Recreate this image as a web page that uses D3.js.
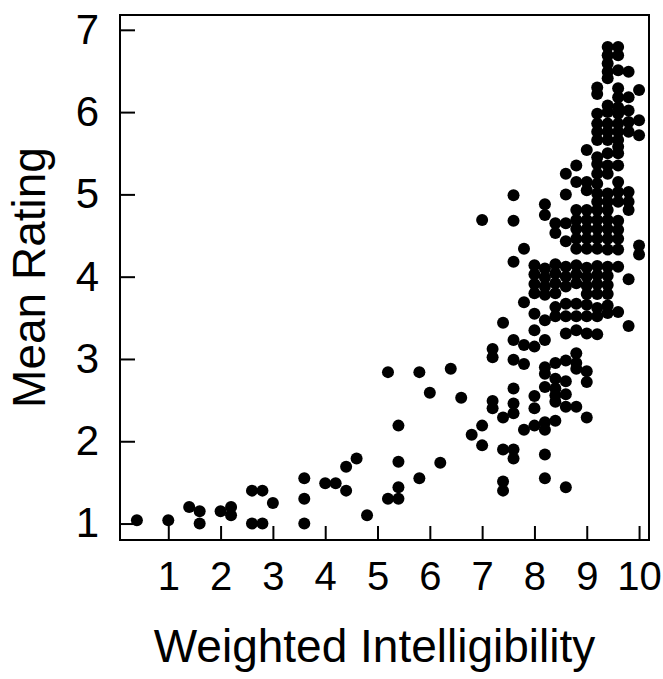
<!DOCTYPE html>
<html>
<head>
<meta charset="utf-8">
<script src="https://cdn.jsdelivr.net/npm/d3@7"></script>
<style>
  body { margin: 0; background: #fff; }
  svg { display: block; }
  text { font-family: "Liberation Sans", Arial, Helvetica, sans-serif; fill: #000; }
</style>
</head>
<body>
<div id="chart"></div>
<script>
// sparse points (low intelligibility)
const sparseX = [0.4, 1.0, 1.4, 1.6, 1.6, 2.0, 2.2, 2.2, 2.6, 2.6, 2.8, 2.8, 3.0,
  3.6, 3.6, 3.6, 4.0, 4.2, 4.4, 4.4, 4.6, 4.8, 5.2, 5.2, 5.4, 5.4, 5.4, 5.4,
  5.8, 5.8, 6.0, 6.2, 6.4, 6.6, 6.8, 7.0, 7.0, 7.0];
const sparseY = [1.04, 1.04, 1.20, 1.15, 1.0, 1.15, 1.20, 1.10, 1.40, 1.0, 1.40, 1.0, 1.25,
  1.55, 1.30, 1.0, 1.49, 1.49, 1.69, 1.40, 1.79, 1.10, 2.84, 1.30, 2.19, 1.75, 1.44, 1.30,
  2.84, 1.55, 2.59, 1.74, 2.88, 2.53, 2.08, 4.69, 2.19, 1.95];

// dense part, one list of ratings per intelligibility column
const columnX = [7.2, 7.4, 7.6, 7.8, 8.0, 8.2, 8.4, 8.6, 8.8, 9.0, 9.2, 9.4, 9.6, 9.8, 10.0];
const columnRatings = [
  [3.12, 3.02, 2.49, 2.40],
  [3.44, 2.29, 1.90, 1.51, 1.40],
  [4.99, 4.68, 4.18, 3.23, 2.99, 2.64, 2.46, 2.34, 1.90, 1.79],
  [4.34, 3.69, 3.17, 2.94, 2.14],
  [4.14, 4.03, 3.91, 3.80, 3.55, 3.35, 3.15, 2.55, 2.40, 2.19],
  [4.88, 4.75, 4.10, 3.99, 3.88, 3.78, 3.47, 3.23, 2.90, 2.82, 2.66, 2.23, 2.14, 1.84, 1.55],
  [4.65, 4.53, 4.15, 4.04, 3.92, 3.80, 3.63, 3.52, 2.95, 2.76, 2.64, 2.56, 2.48, 2.25],
  [5.25, 5.00, 4.65, 4.43, 4.12, 4.00, 3.88, 3.67, 3.52, 3.31, 2.98, 2.73, 2.57, 2.42, 1.44],
  [5.35, 5.15, 4.81, 4.69, 4.58, 4.46, 4.34, 4.14, 4.03, 3.92, 3.67, 3.52, 3.35, 3.07, 2.95, 2.88, 2.42],
  [5.54, 5.15, 5.05, 4.81, 4.69, 4.58, 4.46, 4.34, 4.11, 4.00, 3.89, 3.79, 3.66, 3.52, 3.31, 2.85, 2.72, 2.29],
  [6.30, 6.22, 5.98, 5.86, 5.76, 5.66, 5.45, 5.37, 5.25, 5.13, 5.01, 4.91, 4.81, 4.69, 4.58, 4.46, 4.34, 4.13, 4.02, 3.91, 3.79, 3.62, 3.52, 3.30],
  [6.79, 6.69, 6.59, 6.49, 6.41, 6.08, 6.00, 5.86, 5.76, 5.66, 5.50, 5.35, 5.25, 5.01, 4.91, 4.81, 4.69, 4.58, 4.46, 4.33, 4.12, 4.01, 3.90, 3.79, 3.65, 3.56],
  [6.79, 6.69, 6.51, 6.29, 6.18, 6.06, 5.98, 5.86, 5.76, 5.66, 5.58, 5.50, 5.35, 5.15, 5.03, 4.91, 4.68, 4.57, 4.46, 4.33, 4.12, 3.57],
  [6.49, 6.18, 6.02, 5.88, 5.76, 5.03, 4.91, 4.81, 3.97, 3.40],
  [6.27, 5.90, 5.72, 4.38, 4.27]
];

const xTicks = [1, 2, 3, 4, 5, 6, 7, 8, 9, 10];
const yTicks = [1, 2, 3, 4, 5, 6, 7];

const points = sparseX.map((v, i) => [v, sparseY[i]]);
columnX.forEach((cx, i) => columnRatings[i].forEach(r => points.push([cx, r])));

const width = 663, height = 679;
const margin = { left: 120, right: 649, top: 15, bottom: 540 };

const x = d3.scaleLinear().domain([0.077, 10.19]).range([margin.left, margin.right]);
const y = d3.scaleLinear().domain([0.8, 7.18]).range([margin.bottom, margin.top]);

const svg = d3.select("#chart").append("svg")
  .attr("width", width)
  .attr("height", height);

// frame
svg.append("rect")
  .attr("x", margin.left).attr("y", margin.top)
  .attr("width", margin.right - margin.left).attr("height", margin.bottom - margin.top)
  .attr("fill", "none").attr("stroke", "#000").attr("stroke-width", 2);

// ticks point inwards
const xAxis = svg.append("g")
  .attr("transform", "translate(0," + margin.bottom + ")")
  .call(d3.axisBottom(x).tickValues(xTicks).tickFormat(d3.format("d"))
    .tickSize(-14).tickPadding(22));
xAxis.select(".domain").remove();
xAxis.selectAll("line").attr("stroke", "#000").attr("stroke-width", 2);
xAxis.selectAll("text").attr("font-size", 40).attr("font-family", null);

const yAxis = svg.append("g")
  .attr("transform", "translate(" + margin.left + ",0)")
  .call(d3.axisLeft(y).tickValues(yTicks).tickFormat(d3.format("d"))
    .tickSize(-15).tickPadding(21));
yAxis.select(".domain").remove();
yAxis.selectAll("line").attr("stroke", "#000").attr("stroke-width", 2);
yAxis.selectAll("text").attr("font-size", 42).attr("font-family", null);

svg.append("g")
  .selectAll("circle")
  .data(points)
  .enter()
  .append("circle")
  .attr("cx", d => x(d[0]))
  .attr("cy", d => y(d[1]))
  .attr("r", 6)
  .attr("fill", "#000");

svg.append("text")
  .attr("x", (margin.left + margin.right) / 2 - 10)
  .attr("y", 662)
  .attr("text-anchor", "middle")
  .attr("font-size", 46)
  .text("Weighted Intelligibility");

svg.append("text")
  .attr("transform", "translate(45," + (margin.top + margin.bottom) / 2 + ") rotate(-90)")
  .attr("text-anchor", "middle")
  .attr("font-size", 46)
  .text("Mean Rating");
</script>
</body>
</html>
